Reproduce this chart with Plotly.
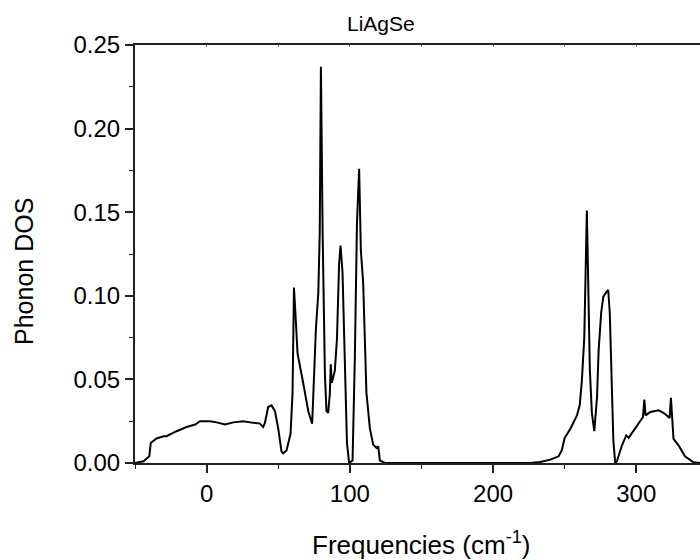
import plotly.graph_objects as go

# Phonon DOS of LiAgSe
freq = [-50, -44, -40, -39, -35, -30, -28, -21, -14, -8, -4.6, 2.3, 7, 12.8, 18.6, 25.6, 32.6, 37,
        39.5, 40.7, 43, 45.3, 47.7, 50, 52.3, 53.5, 55.8, 58.6, 60, 61, 62.3, 63.5, 67.4, 71, 73.7,
        76.3, 78, 79, 79.8, 81, 82.6, 83.7, 84.9, 86, 86.7, 87.4, 89.5, 91, 92.5, 93.5, 94.9, 96.5,
        98, 99.5, 101.9, 103.5, 105, 106.5, 107.7, 109.3, 110.5, 111.6, 114, 116.3, 118.6, 119.8,
        121, 124.4, 150, 200, 226, 233, 240, 245.8, 248, 250, 254, 258.6, 260.5, 262, 263.7,
        265.5, 267.6, 269, 270.7, 272.6, 273.7, 275.5, 277, 279, 280.4, 281.5, 282.5, 284, 285.3,
        286.5, 290, 293, 294.7, 299.3, 304.7, 305.6, 306.5, 309.8, 315.6, 319, 323.3, 324.2,
        325.3, 326, 329.5, 334, 340, 344.5]
dos = [0.0, 0.001, 0.004, 0.012, 0.0147, 0.016, 0.016, 0.019, 0.0215, 0.023, 0.025, 0.025, 0.0243,
       0.023, 0.0243, 0.025, 0.024, 0.0237, 0.0215, 0.024, 0.0335, 0.0345, 0.031, 0.0207, 0.0068,
       0.0058, 0.0075, 0.0175, 0.042, 0.105, 0.085, 0.0655, 0.048, 0.031, 0.0235, 0.08, 0.102,
       0.138, 0.237, 0.138, 0.053, 0.031, 0.030, 0.041, 0.059, 0.048, 0.055, 0.074, 0.119, 0.130,
       0.114, 0.063, 0.012, 0.0, 0.0015, 0.063, 0.144, 0.176, 0.127, 0.108, 0.074, 0.042, 0.0207,
       0.011, 0.009, 0.010, 0.0015, 0.0, 0.0, 0.0, 0.0, 0.0006, 0.002, 0.004, 0.0076, 0.015,
       0.0205, 0.0285, 0.0345, 0.049, 0.075, 0.151, 0.0556, 0.03, 0.019, 0.0395, 0.067, 0.09,
       0.0995, 0.102, 0.1035, 0.09, 0.06, 0.0135, 0.0, 0.001, 0.0106, 0.0165, 0.015, 0.0205,
       0.0275, 0.038, 0.0285, 0.0305, 0.0315, 0.030, 0.027, 0.039, 0.0265, 0.0145, 0.0106, 0.004,
       0.0004, 0.0]

x_range = [-50, 344.5]
y_range = [0, 0.25]
x_ticks = [0, 100, 200, 300]
y_ticks = [0.00, 0.05, 0.10, 0.15, 0.20, 0.25]
y_tick_labels = ["0.00", "0.05", "0.10", "0.15", "0.20", "0.25"]

FONT = "Liberation Sans, Arial, sans-serif"
L, R, T, B = 135, 0, 45, 97
PW = 700 - L - R
PH = 560 - T - B

fig = go.Figure()
fig.add_trace(go.Scatter(x=freq, y=dos, mode="lines",
                         line=dict(color="black", width=2), showlegend=False))
# invisible trace to activate the top axis
fig.add_trace(go.Scatter(x=x_range, y=[None, None], xaxis="x2", showlegend=False,
                         hoverinfo="skip"))

fig.update_layout(
    width=700, height=560,
    margin=dict(l=L, r=R, t=T, b=B),
    paper_bgcolor="white", plot_bgcolor="white",
    font=dict(family=FONT, color="black", size=24),
    xaxis=dict(range=x_range, tickvals=x_ticks, ticks="outside", ticklen=8, tickwidth=1.5,
               tickcolor="#222", showline=True, linecolor="#222", linewidth=2,
               showgrid=False, zeroline=False, tickfont=dict(size=24),
               minor=dict(dtick=50, tick0=0, ticks="outside", ticklen=4, tickwidth=1,
                          tickcolor="#222", showgrid=False)),
    xaxis2=dict(range=x_range, overlaying="x", side="top", showticklabels=False,
                showline=True, linecolor="#222", linewidth=2, showgrid=False,
                zeroline=False, tickvals=[0, 50, 100, 150, 200, 250, 300],
                ticks="inside", ticklen=2, tickwidth=1, tickcolor="#777"),
    yaxis=dict(range=y_range, tickvals=y_ticks, ticktext=y_tick_labels, ticks="outside",
               ticklen=8, tickwidth=1.5, tickcolor="#222", showline=True,
               linecolor="#222", linewidth=2, showgrid=False, zeroline=False,
               tickfont=dict(size=24),
               minor=dict(dtick=0.025, tick0=0, ticks="outside", ticklen=4, tickwidth=1,
                          tickcolor="#222", showgrid=False)),
    annotations=[
        dict(text="LiAgSe", xref="paper", yref="paper", x=(381 - L) / PW, y=1,
             yshift=22, showarrow=False, font=dict(size=21), xanchor="center",
             yanchor="middle"),
        dict(text="Frequencies (cm<sup>-1</sup>)", xref="paper", yref="paper",
             x=(421 - L) / PW, y=0, yshift=-80, showarrow=False, font=dict(size=26),
             xanchor="center", yanchor="middle"),
        dict(text="Phonon DOS", xref="paper", yref="paper", x=0, xshift=-111,
             y=(560 - B - 272) / PH, textangle=-90, showarrow=False, font=dict(size=25),
             xanchor="center", yanchor="middle"),
    ],
)

fig.write_html("out.html")
